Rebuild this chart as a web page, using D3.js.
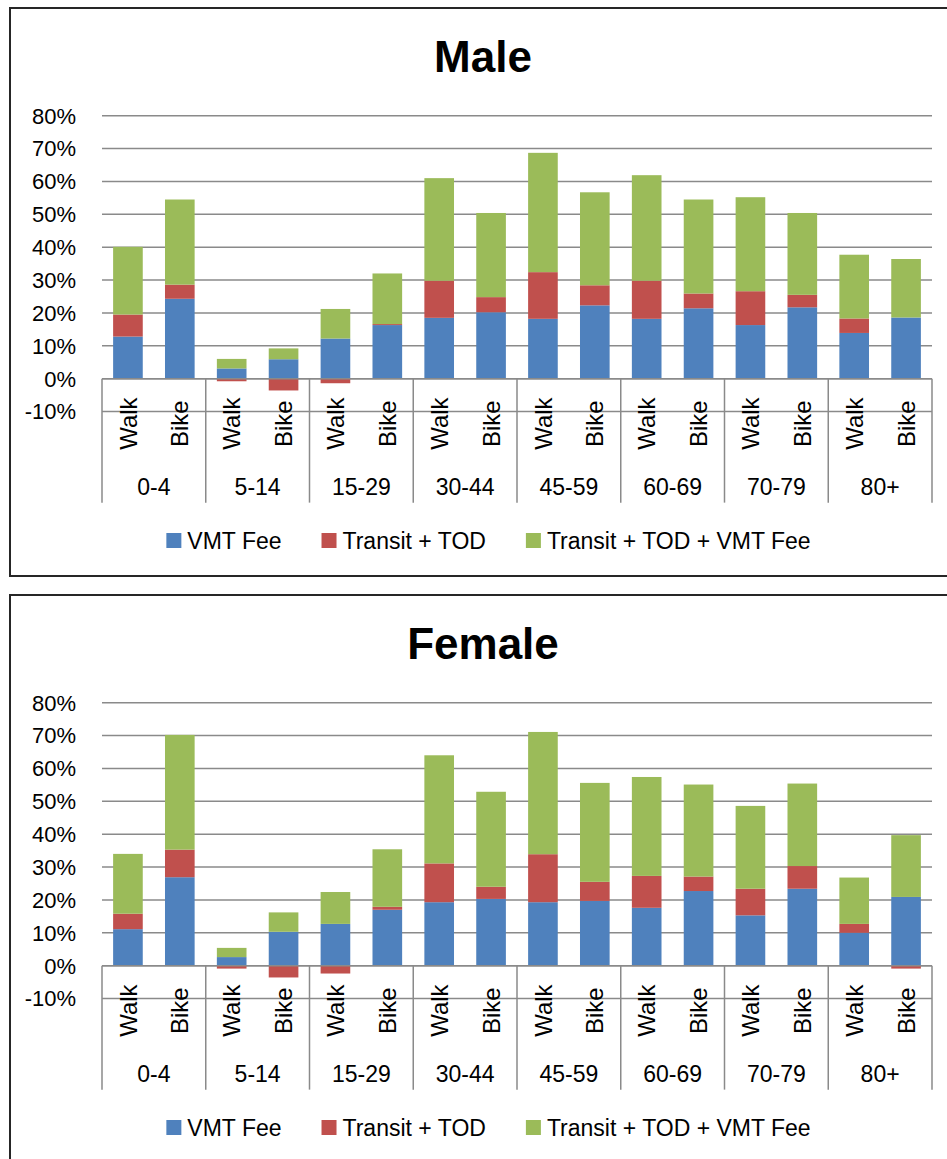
<!DOCTYPE html>
<html>
<head>
<meta charset="utf-8">
<script src="https://cdn.jsdelivr.net/npm/d3@7"></script>
<style>
  html, body { margin: 0; padding: 0; background: #fff; }
  svg { display: block; font-family: "Liberation Sans", Arial, sans-serif; }
</style>
</head>
<body>
<svg id="chart" width="947" height="1159"></svg>
<script>
// ---------- data ----------
const ages = ["0-4", "5-14", "15-29", "30-44", "45-59", "60-69", "70-79", "80+"];
const modes = ["Walk", "Bike"];
const seriesNames = ["VMT Fee", "Transit + TOD", "Transit + TOD + VMT Fee"];
const seriesColors = ["#4F81BD", "#C0504D", "#9BBB59"];
const yTicks = [-0.1, 0, 0.1, 0.2, 0.3, 0.4, 0.5, 0.6, 0.7, 0.8];
const yTickLabels = ["-10%", "0%", "10%", "20%", "30%", "40%", "50%", "60%", "70%", "80%"];

// values in percent, order: age group x (Walk, Bike)
const maleVMT      = [12.8, 24.3, 3.1, 5.9, 12.2, 16.3, 18.5, 20.2, 18.2, 22.3, 18.2, 21.4, 16.3, 21.7, 13.9, 18.6];
const maleTransit  = [6.7, 4.3, -0.8, -3.6, -1.4, 0.3, 11.3, 4.6, 14.2, 6.1, 11.6, 4.5, 10.3, 3.8, 4.4, 0.0];
const maleCombined = [20.6, 25.9, 2.9, 3.3, 9.0, 15.4, 31.2, 25.6, 36.3, 28.3, 32.1, 28.6, 28.6, 24.9, 19.4, 17.8];

const femaleVMT      = [11.1, 26.9, 2.6, 10.3, 12.7, 17.0, 19.3, 20.3, 19.3, 19.7, 17.6, 22.7, 15.3, 23.4, 10.0, 20.9];
const femaleTransit  = [4.7, 8.4, -0.9, -3.6, -2.4, 0.9, 11.8, 3.7, 14.6, 5.8, 9.7, 4.4, 8.1, 6.9, 2.7, -0.9];
const femaleCombined = [18.2, 34.9, 2.8, 5.9, 9.7, 17.5, 32.9, 28.9, 37.2, 30.1, 30.1, 28.0, 25.2, 25.1, 14.1, 18.8];

const panels = [
  { title: "Male", vmt: maleVMT, transit: maleTransit, combined: maleCombined },
  { title: "Female", vmt: femaleVMT, transit: femaleTransit, combined: femaleCombined }
];

// ---------- layout ----------
const svg = d3.select("#chart");
const panelOffset = 587;
const plotLeft = 102, plotRight = 932;
const yTop = 115.7, yBottom = 411.5;

function drawPanel(p, i) {
  const g = svg.append("g").attr("transform", `translate(0,${i * panelOffset})`);

  // outer frame
  g.append("rect")
    .attr("x", 10).attr("y", 8)
    .attr("width", 940).attr("height", i === 0 ? 568 : 700)
    .attr("fill", "#fff").attr("stroke", "#262626").attr("stroke-width", 2);

  // title
  g.append("text")
    .attr("x", 483).attr("y", 72)
    .attr("text-anchor", "middle")
    .attr("font-size", 44).attr("font-weight", "bold")
    .attr("fill", "#000")
    .text(p.title);

  const y = d3.scaleLinear().domain([-0.1, 0.8]).range([yBottom, yTop]);
  const x0 = d3.scaleBand().domain(ages).range([plotLeft, plotRight]).padding(0);
  const x1 = d3.scaleBand().domain(modes).range([0, x0.bandwidth()])
    .paddingInner(0.75 / 1.75).paddingOuter(0.75 / 3.5);

  // gridlines
  g.append("g").selectAll("line").data(yTicks).join("line")
    .attr("x1", plotLeft).attr("x2", plotRight)
    .attr("y1", d => y(d)).attr("y2", d => y(d))
    .attr("stroke", "#8a8a8a").attr("stroke-width", 1.5);

  // y axis labels
  g.append("g").selectAll("text").data(yTicks).join("text")
    .attr("x", 76).attr("y", d => y(d))
    .attr("dy", "0.36em")
    .attr("text-anchor", "end")
    .attr("font-size", 22).attr("fill", "#000")
    .text((d, k) => yTickLabels[k]);

  // data rows
  const rows = [];
  ages.forEach((a, ai) => modes.forEach((m, mi) => {
    const k = ai * 2 + mi;
    rows.push({ age: a, mode: m, s0: p.vmt[k] / 100, s1: p.transit[k] / 100, s2: p.combined[k] / 100 });
  }));
  const stack = d3.stack().keys(["s0", "s1", "s2"]).offset(d3.stackOffsetDiverging);
  const stacked = stack(rows);

  g.append("g").selectAll("g").data(stacked).join("g")
    .attr("fill", (d, k) => seriesColors[k])
    .selectAll("rect").data(d => d).join("rect")
    .attr("x", d => x0(d.data.age) + x1(d.data.mode))
    .attr("width", x1.bandwidth())
    .attr("y", d => y(Math.max(d[0], d[1])))
    .attr("height", d => Math.abs(y(d[0]) - y(d[1])));

  // category axis
  const y0 = y(0);
  g.append("line")
    .attr("x1", plotLeft).attr("x2", plotRight)
    .attr("y1", y0).attr("y2", y0)
    .attr("stroke", "#8a8a8a").attr("stroke-width", 1.5);
  const bounds = ages.map(a => x0(a)).concat([plotRight]);
  g.append("g").selectAll("line").data(bounds).join("line")
    .attr("x1", d => d).attr("x2", d => d)
    .attr("y1", y0).attr("y2", y0 + 124)
    .attr("stroke", "#8a8a8a").attr("stroke-width", 1.5);

  // inner labels (rotated)
  g.append("g").selectAll("text").data(rows).join("text")
    .attr("transform", d => `translate(${x0(d.age) + x1(d.mode) + x1.bandwidth() / 2},${y0 + 45}) rotate(-90)`)
    .attr("dy", "0.36em")
    .attr("text-anchor", "middle")
    .attr("font-size", 24).attr("fill", "#000")
    .text(d => d.mode);

  // outer labels
  g.append("g").selectAll("text").data(ages).join("text")
    .attr("x", d => x0(d) + x0.bandwidth() / 2)
    .attr("y", y0 + 108.5)
    .attr("dy", "0.36em")
    .attr("text-anchor", "middle")
    .attr("font-size", 23).attr("fill", "#000")
    .text(d => d);

  // legend
  const leg = g.append("g");
  const items = leg.selectAll("g").data(seriesNames).join("g");
  items.append("rect")
    .attr("width", 15).attr("height", 15)
    .attr("y", 533)
    .attr("fill", (d, k) => seriesColors[k]);
  items.append("text")
    .attr("x", 21).attr("y", 540.5)
    .attr("dy", "0.36em")
    .attr("font-size", 23).attr("fill", "#000")
    .text(d => d);
  let cx = 0;
  const widths = [];
  items.each(function () {
    const w = d3.select(this).select("text").node().getComputedTextLength() + 21;
    widths.push(w);
  });
  const gap = 40;
  const total = d3.sum(widths) + gap * (widths.length - 1);
  cx = 488.5 - total / 2;
  items.each(function (d, k) {
    d3.select(this).attr("transform", `translate(${cx},0)`);
    cx += widths[k] + gap;
  });
}

panels.forEach(drawPanel);
</script>
</body>
</html>
